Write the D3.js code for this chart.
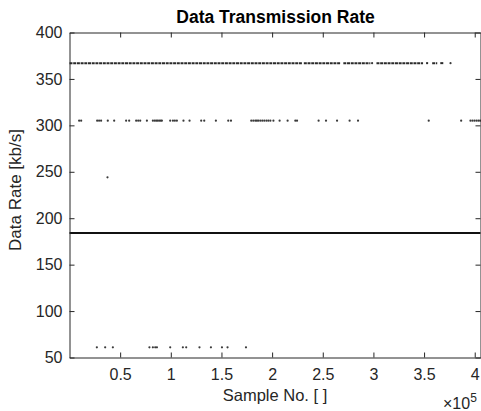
<!DOCTYPE html>
<html><head><meta charset="utf-8">
<script src="https://cdn.jsdelivr.net/npm/d3@7"></script>
<style>
body{margin:0;background:#fff}
svg{display:block}
text{font-family:"Liberation Sans",Arial,Helvetica,sans-serif}
</style>
</head><body>
<script>
// ---- data ----
const xTickValues = [50000, 100000, 150000, 200000, 250000, 300000, 350000, 400000];
const xTickLabels = ["0.5", "1", "1.5", "2", "2.5", "3", "3.5", "4"];
const yTickValues = [50, 100, 150, 200, 250, 300, 350, 400];
const xDomain = [0, 405700];
const yDomain = [50, 400];

// rate levels [kb/s]
const levelHigh = 367;
const levelMid = 305;
const levelBase = 184;
const levelLow = 61;
const levelOdd = 244;

// dense runs of samples (start, end sample no.)
const highRuns = [[0, 229500], [231300, 267400], [270300, 297000], [303000, 349000], [352000, 354000], [358000, 363000], [366000, 369000]];
const highSingles = [298700, 376100];
const baseRuns = [[0, 405700]];
// isolated samples
const midSamples = [9500, 11500, 27300, 29200, 31200, 37800, 44100, 55900, 58900, 65800, 67800, 69800, 76400, 82300, 84100, 85600, 87000, 88500, 90000, 91200, 99400, 102100, 104000, 106000, 112500, 118500, 130000, 133000, 144500, 156700, 159400, 179400, 181400, 183400, 184900, 186300, 188300, 190300, 192300, 194400, 196300, 198300, 201300, 207400, 215300, 222900, 224600, 245900, 253200, 264100, 276500, 284800, 354600, 386600, 395800, 397800, 399800, 401800, 403700, 405400];
const lowSamples = [27000, 35200, 42800, 78900, 82300, 84600, 86300, 99400, 111900, 115200, 128300, 139600, 150500, 156000, 174200];
const oddSamples = [37500];

// ---- layout ----
const W = 481, H = 411;
const m = {left: 69.5, right: 480.5, top: 32.5, bottom: 357.5};
const axisColor = "#262626";

const svg = d3.select("body").append("svg").attr("width", W).attr("height", H);

const x = d3.scaleLinear().domain(xDomain).range([m.left, m.right]);
const y = d3.scaleLinear().domain(yDomain).range([m.bottom, m.top]);

const plot = svg.append("g");
const dotColor = "#3a3a3a";

function runs(data, level, width, dash, color) {
  plot.append("g").selectAll("line").data(data).join("line")
    .attr("x1", d => x(d[0])).attr("x2", d => x(d[1]))
    .attr("y1", y(level)).attr("y2", y(level))
    .attr("stroke", color).attr("stroke-width", width)
    .attr("stroke-dasharray", dash);
}
runs(highRuns, levelHigh, 2, "3,0.7", "#2a2a2a");
runs(baseRuns, levelBase, 2, null, "#111");

function dots(data, level) {
  plot.append("g").selectAll("circle").data(data).join("circle")
    .attr("cx", d => x(d)).attr("cy", y(level)).attr("r", 1.1)
    .attr("fill", dotColor);
}
dots(highSingles, levelHigh);
dots(midSamples, levelMid);
dots(lowSamples, levelLow);
dots(oddSamples, levelOdd);

// ---- axes ----
const fmtX = (d, i) => xTickLabels[i];
const gB = svg.append("g").attr("transform", `translate(0,${m.bottom})`)
  .call(d3.axisBottom(x).tickValues(xTickValues).tickFormat(fmtX).tickSizeInner(-5).tickSizeOuter(0).tickPadding(11));
const gT = svg.append("g").attr("transform", `translate(0,${m.top})`)
  .call(d3.axisTop(x).tickValues(xTickValues).tickFormat("").tickSizeInner(-5).tickSizeOuter(0));
const gL = svg.append("g").attr("transform", `translate(${m.left},0)`)
  .call(d3.axisLeft(y).tickValues(yTickValues).tickSizeInner(-5).tickSizeOuter(0).tickPadding(7));
const gR = svg.append("g").attr("transform", `translate(${m.right},0)`)
  .call(d3.axisRight(y).tickValues(yTickValues).tickFormat("").tickSizeInner(-5).tickSizeOuter(0));

[gB, gT, gL, gR].forEach(g => {
  g.select(".domain").attr("stroke", axisColor).attr("stroke-width", 1);
  g.selectAll(".tick line").attr("stroke", axisColor);
  g.selectAll(".tick text").attr("fill", axisColor).style("font-size", "16px")
    .style("font-family", '"Liberation Sans", Arial, sans-serif');
});

// ---- titles ----
svg.append("text").attr("x", 275.5).attr("y", 23)
  .attr("text-anchor", "middle").style("font-size", "17.5px").style("font-weight", "bold")
  .attr("fill", "#000").text("Data Transmission Rate");

svg.append("text").attr("x", 275).attr("y", 401)
  .attr("text-anchor", "middle").style("font-size", "16.5px")
  .attr("fill", axisColor).text("Sample No. [ ]");

svg.append("text").attr("transform", `translate(21,190) rotate(-90)`)
  .attr("text-anchor", "middle").style("font-size", "17px")
  .attr("fill", axisColor).text("Data Rate [kb/s]");

const exp = svg.append("text").attr("x", 443).attr("y", 409)
  .style("font-size", "16px").attr("fill", axisColor);
exp.append("tspan").text("\u00d710");
exp.append("tspan").attr("dy", -7).style("font-size", "12px").text("5");
</script>
</body></html>
